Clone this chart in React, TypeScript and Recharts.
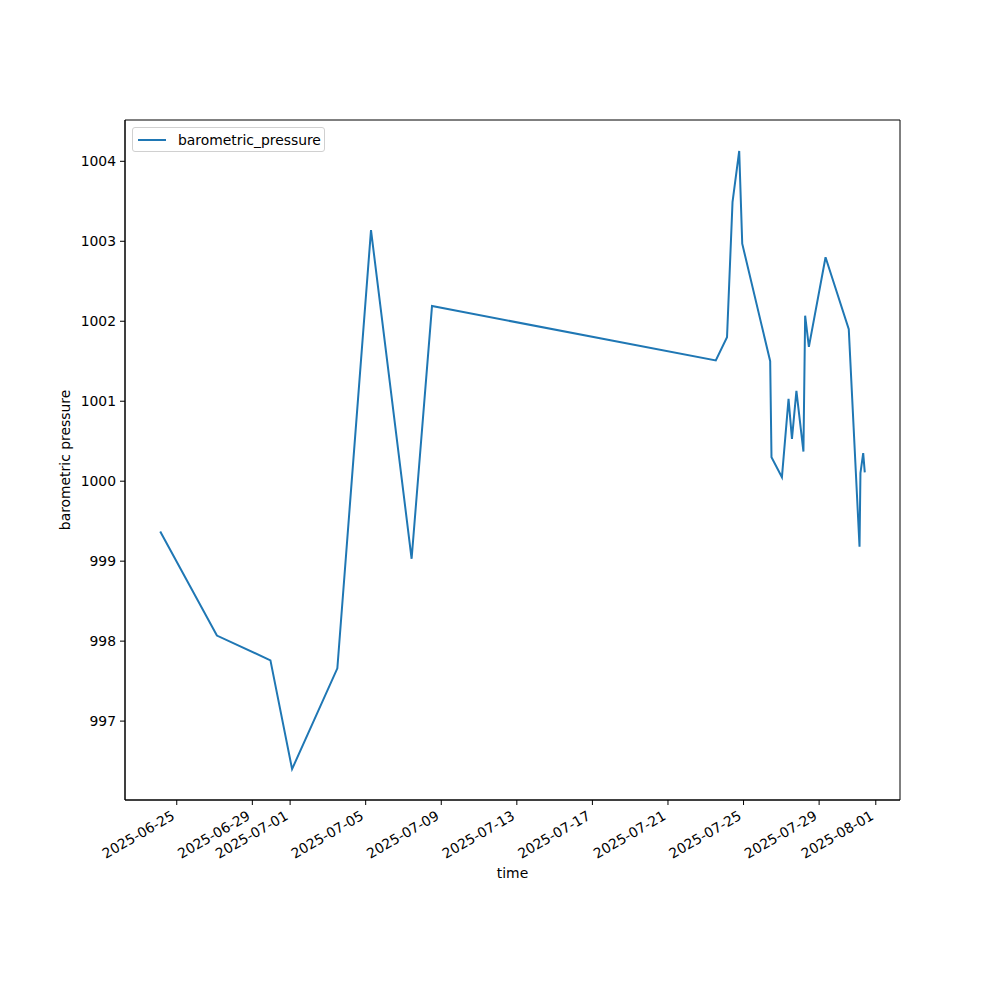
import React from 'react';
import { LineChart, Line, XAxis, YAxis, ReferenceArea } from 'recharts';

const times = [
  '2025-06-24T03:00:00Z',
  '2025-06-27T03:00:00Z',
  '2025-06-29T23:00:00Z',
  '2025-07-01T02:30:00Z',
  '2025-07-03T12:00:00Z',
  '2025-07-05T06:45:00Z',
  '2025-07-07T10:20:00Z',
  '2025-07-08T12:15:00Z',
  '2025-07-23T12:45:00Z',
  '2025-07-24T03:00:00Z',
  '2025-07-24T10:00:00Z',
  '2025-07-24T18:30:00Z',
  '2025-07-24T22:20:00Z',
  '2025-07-26T09:50:00Z',
  '2025-07-26T11:30:00Z',
  '2025-07-27T00:45:00Z',
  '2025-07-27T09:10:00Z',
  '2025-07-27T13:30:00Z',
  '2025-07-27T19:10:00Z',
  '2025-07-28T04:05:00Z',
  '2025-07-28T06:15:00Z',
  '2025-07-28T11:00:00Z',
  '2025-07-29T08:10:00Z',
  '2025-07-30T13:40:00Z',
  '2025-07-31T03:20:00Z',
  '2025-07-31T04:30:00Z',
  '2025-07-31T08:00:00Z',
  '2025-07-31T10:00:00Z',
];

const pressure = [
  999.37, 998.07, 997.76, 996.4, 997.66, 1003.14, 999.03, 1002.19,
  1001.51, 1001.8, 1003.49, 1004.13, 1002.97, 1001.5, 1000.3, 1000.05,
  1001.03, 1000.53, 1001.13, 1000.37, 1002.07, 1001.68, 1002.8, 1001.9,
  999.18, 1000.1, 1000.35, 1000.11,
];

const xTickLabels = [
  '2025-06-25', '2025-06-29', '2025-07-01', '2025-07-05', '2025-07-09',
  '2025-07-13', '2025-07-17', '2025-07-21', '2025-07-25', '2025-07-29',
  '2025-08-01',
];

const yTicks = [997, 998, 999, 1000, 1001, 1002, 1003, 1004];

const data = times.map((t, i) => ({ t: Date.parse(t), barometric_pressure: pressure[i] }));

const tMin = Math.min(...data.map((d) => d.t));
const tMax = Math.max(...data.map((d) => d.t));
const tPad = (tMax - tMin) * 0.05;
const vMin = Math.min(...pressure);
const vMax = Math.max(...pressure);
const vPad = (vMax - vMin) * 0.05;
const xDomain = [tMin - tPad, tMax + tPad];
const yDomain = [vMin - vPad, vMax + vPad];

const xTicks = xTickLabels.map((s) => Date.parse(s + 'T00:00:00Z'));

const FONT = 'DejaVu Sans, sans-serif';
const COLOR = '#1f77b4';

const XTick = (props: any) => {
  const { x, y, payload } = props;
  const label = new Date(payload.value).toISOString().slice(0, 10);
  const ax = x - 6;
  const ay = y + 3;
  return (
    <text
      x={ax}
      y={ay}
      transform={`rotate(-30, ${ax}, ${ay})`}
      textAnchor="end"
      dy="0.71em"
      fontFamily={FONT}
      fontSize={13.9}
      fill="#000"
    >
      {label}
    </text>
  );
};

export default function App() {
  return (
    <div style={{ position: 'absolute', left: 0, top: 0, width: 1000, height: 1000, background: '#fff' }}>
      <LineChart
        width={1000}
        height={1000}
        data={data}
        margin={{ top: 120, right: 100, bottom: 100, left: 65 }}
      >
        <XAxis
          dataKey="t"
          type="number"
          scale="time"
          domain={xDomain}
          ticks={xTicks}
          tick={<XTick />}
          tickSize={5}
          interval={0}
          height={100}
          stroke="#000"
          allowDataOverflow
          label={{ value: 'time', position: 'insideBottom', offset: 22, fontFamily: FONT, fontSize: 13.9, fill: '#000' }}
        />
        <YAxis
          type="number"
          domain={yDomain}
          ticks={yTicks}
          interval={0}
          width={60}
          tickSize={5}
          tickMargin={4}
          stroke="#000"
          allowDataOverflow
          tick={{ fontFamily: FONT, fontSize: 13.9, fill: '#000' }}
          label={{
            value: 'barometric pressure',
            angle: -90,
            position: 'insideLeft',
            offset: 0,
            style: { textAnchor: 'middle' },
            fontFamily: FONT,
            fontSize: 13.9,
            fill: '#000',
          }}
        />
        <ReferenceArea
          x1={xDomain[0]}
          x2={xDomain[1]}
          y1={yDomain[0]}
          y2={yDomain[1]}
          fill="none"
          stroke="#000"
          strokeWidth={1}
          ifOverflow="visible"
        />
        <Line
          type="linear"
          dataKey="barometric_pressure"
          stroke={COLOR}
          strokeWidth={2}
          dot={false}
          isAnimationActive={false}
        />
      </LineChart>
      <div
        style={{
          position: 'absolute',
          left: 132,
          top: 127,
          width: 193,
          height: 25,
          border: '1px solid #d0d0d0',
          borderRadius: 3,
          background: 'rgba(255,255,255,0.8)',
          display: 'flex',
          alignItems: 'center',
          fontFamily: FONT,
          fontSize: 13.9,
          color: '#000',
          boxSizing: 'border-box',
        }}
      >
        <div style={{ width: 28, height: 2, background: COLOR, marginLeft: 5, marginRight: 12 }} />
        <span>barometric_pressure</span>
      </div>
    </div>
  );
}
